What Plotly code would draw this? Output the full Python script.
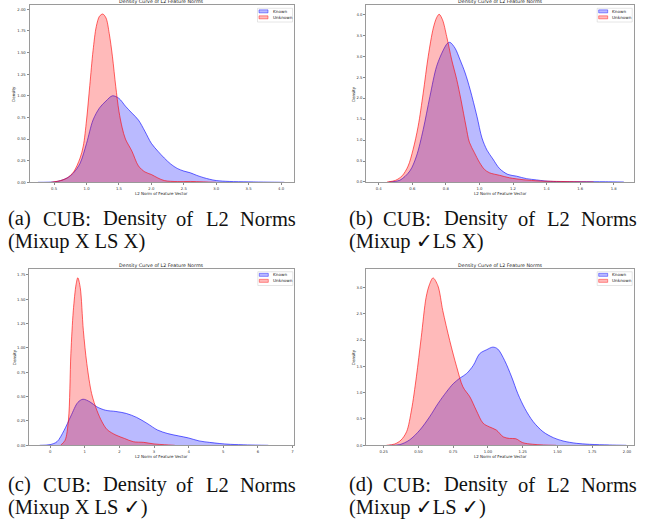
import plotly.graph_objects as go

# ---- density curves (L2 norm of feature vector -> density) ----
# (a) Mixup X, LS X
a_known_x = [0.25, 0.5, 0.6, 0.7, 0.8, 0.9, 1.0, 1.1, 1.2, 1.3, 1.4, 1.5, 1.6, 1.7, 1.8, 1.9, 2.0,
             2.1, 2.2, 2.3, 2.4, 2.5, 2.6, 2.7, 2.8, 2.9, 3.0, 3.2, 3.5, 3.8, 4.05]
a_known_y = [0, 0.005, 0.02, 0.05, 0.11, 0.22, 0.45, 0.72, 0.86, 0.94, 1.0, 0.97, 0.88, 0.80, 0.72,
             0.59, 0.45, 0.36, 0.28, 0.21, 0.16, 0.13, 0.11, 0.08, 0.055, 0.035, 0.02, 0.01, 0.005,
             0.002, 0]
a_unknown_x = [0.45, 0.6, 0.7, 0.8, 0.9, 0.95, 1.0, 1.05, 1.1, 1.15, 1.2, 1.25, 1.3, 1.35, 1.4,
               1.45, 1.5, 1.55, 1.6, 1.7, 1.8, 1.9, 2.0, 2.1, 2.2, 2.4, 2.6, 2.8, 3.0]
a_unknown_y = [0, 0.02, 0.05, 0.12, 0.28, 0.42, 0.72, 1.12, 1.52, 1.80, 1.92, 1.945, 1.90, 1.72,
               1.45, 1.11, 0.82, 0.63, 0.5, 0.36, 0.19, 0.12, 0.09, 0.05, 0.02, 0.008, 0.01, 0.005, 0]

# (b) Mixup ✓, LS X
b_known_x = [0.46, 0.525, 0.585, 0.625, 0.665, 0.705, 0.745, 0.785, 0.81, 0.825, 0.855, 0.885,
             0.915, 0.945, 0.985, 1.015, 1.045, 1.08, 1.12, 1.17, 1.22, 1.28, 1.34, 1.39, 1.46,
             1.6, 1.75, 1.86]
b_known_y = [0, 0.04, 0.26, 0.62, 1.25, 2.04, 2.76, 3.15, 3.31, 3.33, 3.19, 2.91, 2.60, 2.20,
             1.57, 1.05, 0.76, 0.55, 0.32, 0.18, 0.14, 0.08, 0.05, 0.025, 0.01, 0.008, 0.006, 0]
b_unknown_x = [0.45, 0.5, 0.54, 0.575, 0.605, 0.635, 0.665, 0.695, 0.725, 0.745, 0.76, 0.78,
               0.805, 0.835, 0.865, 0.89, 0.92, 0.94, 0.97, 1.0, 1.03, 1.06, 1.12, 1.18, 1.26,
               1.36, 1.46, 1.56, 1.68]
b_unknown_y = [0, 0.04, 0.15, 0.38, 0.78, 1.33, 2.12, 3.0, 3.67, 3.92, 4.0, 3.87, 3.47, 2.91,
               2.44, 1.96, 1.33, 0.95, 0.70, 0.47, 0.30, 0.22, 0.16, 0.10, 0.055, 0.025, 0.015,
               0.008, 0]

# (c) Mixup X, LS ✓
c_known_x = [-0.3, 0, 0.2, 0.4, 0.6, 0.8, 0.95, 1.15, 1.35, 1.6, 1.9, 2.2, 2.5, 2.8, 3.1, 3.4,
             3.7, 4.0, 4.3, 4.6, 4.9, 5.2, 5.7, 6.3]
c_known_y = [0, 0.007, 0.037, 0.15, 0.30, 0.44, 0.473, 0.446, 0.395, 0.36, 0.347, 0.327, 0.286,
             0.225, 0.157, 0.12, 0.097, 0.075, 0.045, 0.03, 0.018, 0.01, 0.004, 0]
c_unknown_x = [0.3, 0.43, 0.53, 0.6, 0.67, 0.75, 0.8, 0.87, 0.96, 1.06, 1.2, 1.35, 1.5, 1.65,
               1.9, 2.15, 2.4, 2.7, 3.0, 3.3, 3.6]
c_unknown_y = [0, 0.05, 0.26, 0.94, 1.38, 1.65, 1.72, 1.62, 1.18, 0.84, 0.53, 0.36, 0.24, 0.16,
               0.105, 0.07, 0.037, 0.03, 0.014, 0.006, 0]

# (d) Mixup ✓, LS ✓
d_known_x = [0.29, 0.365, 0.435, 0.51, 0.58, 0.64, 0.70, 0.75, 0.80, 0.845, 0.895, 0.94, 0.99,
             1.035, 1.07, 1.12, 1.17, 1.215, 1.265, 1.325, 1.395, 1.47, 1.54, 1.635, 1.73,
             1.875, 1.995]
d_known_y = [0, 0.013, 0.10, 0.29, 0.54, 0.79, 1.01, 1.17, 1.28, 1.36, 1.52, 1.74, 1.815, 1.865,
             1.83, 1.61, 1.30, 0.98, 0.70, 0.45, 0.26, 0.145, 0.082, 0.038, 0.019, 0.006, 0]
d_unknown_x = [0.27, 0.33, 0.375, 0.415, 0.45, 0.485, 0.52, 0.555, 0.58, 0.605, 0.64, 0.675,
               0.725, 0.775, 0.82, 0.87, 0.915, 0.965, 1.01, 1.06, 1.11, 1.155, 1.2, 1.25, 1.32,
               1.4, 1.49]
d_unknown_y = [0, 0.025, 0.10, 0.26, 0.67, 1.30, 2.05, 2.81, 3.06, 3.18, 3.03, 2.56, 1.99, 1.49,
               1.11, 0.92, 0.67, 0.42, 0.35, 0.29, 0.16, 0.13, 0.125, 0.05, 0.02, 0.006, 0]

series_names = ["Known", "Unknown"]
plot_title = "Density Curve of L2 Feature Norms"
x_label = "L2 Norm of Feature Vector"
y_label = "Density"

caption_words = ["CUB:", "Density", "of", "L2", "Norms"]
caption_tags = ["(a)", "(b)", "(c)", "(d)"]
caption_second = ["(Mixup X LS X)", "(Mixup \u2713LS X)", "(Mixup X LS \u2713)", "(Mixup \u2713LS \u2713)"]

# axis settings per panel
x_ranges = [[0.12, 4.2], [0.326, 1.919], [-0.6, 7.05], [0.125, 2.048]]
y_ranges = [[0, 2.044], [0, 4.21], [0, 1.81], [0, 3.35]]
x_ticks = [[0.5, 1.0, 1.5, 2.0, 2.5, 3.0, 3.5, 4.0],
           [0.4, 0.6, 0.8, 1.0, 1.2, 1.4, 1.6, 1.8],
           [0, 1, 2, 3, 4, 5, 6, 7],
           [0.25, 0.5, 0.75, 1.0, 1.25, 1.5, 1.75, 2.0]]
y_ticks = [[0, 0.25, 0.5, 0.75, 1.0, 1.25, 1.5, 1.75, 2.0],
           [0, 0.5, 1.0, 1.5, 2.0, 2.5, 3.0, 3.5, 4.0],
           [0, 0.25, 0.5, 0.75, 1.0, 1.25, 1.5, 1.75],
           [0, 0.5, 1.0, 1.5, 2.0, 2.5, 3.0]]
x_formats = [".1f", ".1f", "d", ".2f"]
y_formats = [".2f", ".1f", ".2f", ".1f"]

# ---- layout geometry (pixels) ----
W, H = 646, 525
panels = [  # left, right, top, bottom
    (29.5, 294.0, 5.5, 183.0),
    (366.3, 633.7, 5.5, 182.7),
    (29.3, 294.3, 270.0, 447.0),
    (366.3, 633.7, 270.0, 447.0),
]
ylabel_offset = [15.5, 13.0, 15.3, 13.3]
caption_left = [7.0, 348.0, 7.0, 348.0]
caption_word_dx = [34.5, 95.0, 168.5, 197.5, 231.5]
caption_line1 = [219.5, 219.5, 486.5, 486.5]
caption_line2 = [242.5, 242.5, 509.5, 509.5]


def px(x):
    return x / W


def py(y):
    return 1 - y / H


colors = {
    "Known": ("rgba(0,0,255,0.27)", "rgba(0,0,255,0.6)"),
    "Unknown": ("rgba(255,0,0,0.27)", "rgba(255,0,0,0.6)"),
}

curves = [
    ((a_known_x, a_known_y), (a_unknown_x, a_unknown_y)),
    ((b_known_x, b_known_y), (b_unknown_x, b_unknown_y)),
    ((c_known_x, c_known_y), (c_unknown_x, c_unknown_y)),
    ((d_known_x, d_known_y), (d_unknown_x, d_unknown_y)),
]

fig = go.Figure()
layout = dict(
    width=W, height=H,
    margin=dict(l=0, r=0, t=0, b=0),
    paper_bgcolor="white", plot_bgcolor="white",
    showlegend=False,
    font=dict(family="DejaVu Sans", color="#222"),
)
annotations = []
shapes = []
spine = "#9a9a9a"
tick_font = dict(family="DejaVu Sans", size=3.8, color="#333")

for i, (L, R, T, B) in enumerate(panels):
    n = "" if i == 0 else str(i + 1)
    xa, ya = "x" + n, "y" + n
    for name, (xs, ys) in zip(series_names, curves[i]):
        fill, line = colors[name]
        fig.add_trace(go.Scatter(
            x=xs, y=ys, name=name, xaxis=xa, yaxis=ya,
            mode="lines", fill="tozeroy", fillcolor=fill,
            line=dict(color=line, width=1, shape="spline", smoothing=0.9),
            hoverinfo="skip",
        ))
    common = dict(showline=True, mirror=True, linecolor=spine, linewidth=1,
                  showgrid=False, zeroline=False, ticks="outside", ticklen=2,
                  tickwidth=0.6, tickcolor="#888", tickfont=tick_font)
    layout["xaxis" + n] = dict(common, domain=[px(L), px(R)], range=x_ranges[i],
                               tickvals=x_ticks[i], tickformat=x_formats[i],
                               anchor=ya)
    layout["yaxis" + n] = dict(common, domain=[py(B), py(T)], range=y_ranges[i],
                               tickvals=y_ticks[i], tickformat=y_formats[i],
                               anchor=xa)

    cx = (L + R) / 2
    # title and axis labels
    annotations.append(dict(text=plot_title, x=px(cx), y=py(T - 3.5), xref="paper", yref="paper",
                            showarrow=False, xanchor="center", yanchor="middle",
                            font=dict(family="DejaVu Sans", size=4.8, color="#222")))
    annotations.append(dict(text=x_label, x=px(cx), y=py(B + 11.3), xref="paper", yref="paper",
                            showarrow=False, xanchor="center", yanchor="middle",
                            font=dict(family="DejaVu Sans", size=4.0, color="#222")))
    annotations.append(dict(text=y_label, x=px(L - ylabel_offset[i]), y=py((T + B) / 2),
                            xref="paper", yref="paper", showarrow=False, textangle=-90,
                            xanchor="center", yanchor="middle",
                            font=dict(family="DejaVu Sans", size=4.0, color="#222")))

    # legend box
    shapes.append(dict(type="rect", xref="paper", yref="paper", layer="above",
                       x0=px(R - 36.5), x1=px(R - 1.5), y0=py(T + 16.6), y1=py(T + 2.8),
                       line=dict(color="#d4d4d4", width=0.6), fillcolor="rgba(255,255,255,0.8)"))
    for k, name in enumerate(series_names):
        fill, line = colors[name]
        top = T + 4.4 + k * 6.0
        shapes.append(dict(type="rect", xref="paper", yref="paper", layer="above",
                           x0=px(R - 35), x1=px(R - 26), y0=py(top + 3.0), y1=py(top),
                           line=dict(color=line, width=0.7), fillcolor=fill))
        annotations.append(dict(text=name, x=px(R - 23.5), y=py(top + 1.5), xref="paper",
                                yref="paper", showarrow=False, xanchor="left", yanchor="middle",
                                font=dict(family="DejaVu Sans", size=4.2, color="#222")))

    # caption below the panel
    cap_font = dict(family="Liberation Serif, DejaVu Sans", size=20.5, color="#111")
    words = [caption_tags[i]] + caption_words
    offs = [0.0] + caption_word_dx
    for w, dx in zip(words, offs):
        annotations.append(dict(text=w, x=px(caption_left[i] + dx), y=py(caption_line1[i]),
                                xref="paper", yref="paper", showarrow=False,
                                xanchor="left", yanchor="middle", borderpad=0, font=cap_font))
    annotations.append(dict(text=caption_second[i], x=px(caption_left[i]), y=py(caption_line2[i]),
                            xref="paper", yref="paper", showarrow=False,
                            xanchor="left", yanchor="middle", borderpad=0, font=cap_font))

layout["annotations"] = annotations
layout["shapes"] = shapes
fig.update_layout(**layout)
fig.write_html("out.html")
